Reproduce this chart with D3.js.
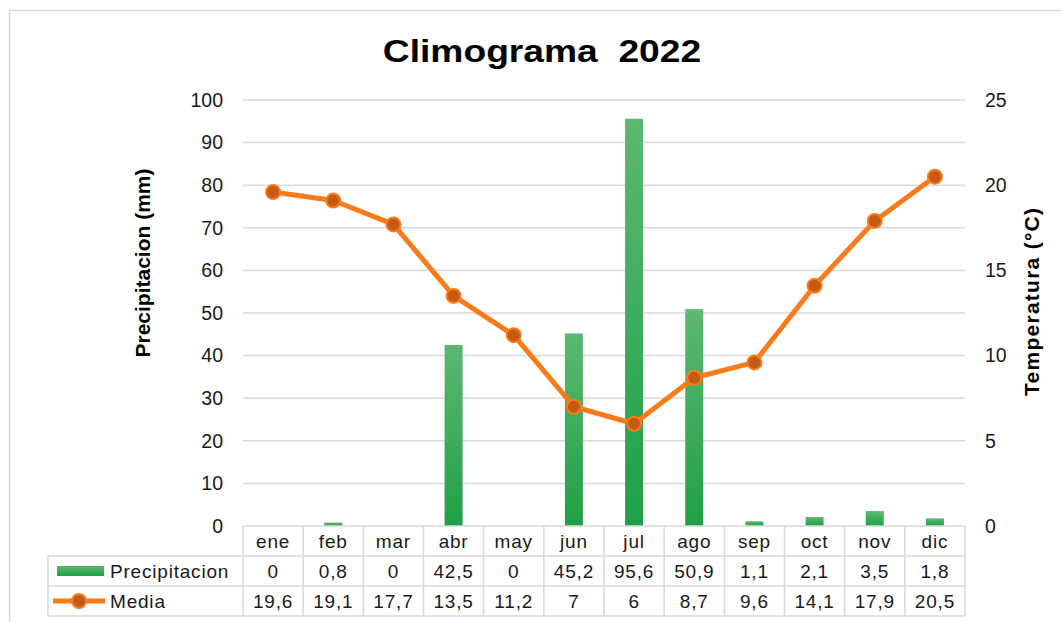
<!DOCTYPE html>
<html>
<head>
<meta charset="utf-8">
<script src="https://cdn.jsdelivr.net/npm/d3@7"></script>
<style>
  body { margin: 0; background: #fff; }
  svg { display: block; font-family: "Liberation Sans", Arial, sans-serif; }
</style>
</head>
<body>
<div id="chart"></div>
<script>
// data
const months = ['ene', 'feb', 'mar', 'abr', 'may', 'jun', 'jul', 'ago', 'sep', 'oct', 'nov', 'dic'];
const precipitacion = [0, 0.8, 0, 42.5, 0, 45.2, 95.6, 50.9, 1.1, 2.1, 3.5, 1.8];
const media = [19.6, 19.1, 17.7, 13.5, 11.2, 7, 6, 8.7, 9.6, 14.1, 17.9, 20.5];
const leftTicks = [0, 10, 20, 30, 40, 50, 60, 70, 80, 90, 100];
const rightTicks = [0, 5, 10, 15, 20, 25];

const width = 1062, height = 622;
const plot = { left: 243, right: 965, top: 100, bottom: 526 };
const rowH = 30;
const orange = '#fb7a1a', darkOrange = '#c55a11';

const svg = d3.select('#chart').append('svg')
  .attr('width', width)
  .attr('height', height);

// outer frame
svg.append('rect')
  .attr('x', 9.5).attr('y', 10.5)
  .attr('width', 1100).attr('height', 700)
  .attr('fill', 'none')
  .attr('stroke', '#d9d9d9')
  .attr('stroke-width', 1.5);

const x = d3.scaleBand().domain(months).range([plot.left, plot.right]);
const yL = d3.scaleLinear().domain([0, 100]).range([plot.bottom, plot.top]);
const yR = d3.scaleLinear().domain([0, 25]).range([plot.bottom, plot.top]);
const cx = i => x(months[i]) + x.bandwidth() / 2;

// gradient for bars
const grad = svg.append('defs').append('linearGradient')
  .attr('id', 'barGrad')
  .attr('x1', 0).attr('y1', 0).attr('x2', 0).attr('y2', 1);
grad.append('stop').attr('offset', '0%').attr('stop-color', '#5cb872');
grad.append('stop').attr('offset', '100%').attr('stop-color', '#20a046');

// title (slightly stretched like the original)
svg.append('text')
  .attr('transform', 'translate(542,62) scale(1.2,1)')
  .attr('text-anchor', 'middle')
  .attr('font-size', 31)
  .attr('font-weight', 'bold')
  .attr('fill', '#000')
  .style('white-space', 'pre')
  .text('Climograma  2022');

// gridlines
svg.append('g')
  .selectAll('line')
  .data(leftTicks.filter(d => d > 0))
  .enter()
  .append('line')
  .attr('x1', plot.left).attr('x2', plot.right)
  .attr('y1', d => yL(d)).attr('y2', d => yL(d))
  .attr('stroke', '#d9d9d9')
  .attr('stroke-width', 1.5);

// left axis
const axL = svg.append('g')
  .attr('transform', `translate(${plot.left - 20},0)`)
  .call(d3.axisLeft(yL).tickValues(leftTicks).tickSize(0).tickPadding(0));
axL.select('.domain').remove();
axL.selectAll('text')
  .attr('font-size', 19.5)
  .attr('fill', '#1a1a1a')
  .attr('font-family', '"Liberation Sans", Arial, sans-serif');

// right axis
const axR = svg.append('g')
  .attr('transform', `translate(${plot.right + 20},0)`)
  .call(d3.axisRight(yR).tickValues(rightTicks).tickSize(0).tickPadding(0));
axR.select('.domain').remove();
axR.selectAll('text')
  .attr('font-size', 19.5)
  .attr('fill', '#1a1a1a')
  .attr('font-family', '"Liberation Sans", Arial, sans-serif');

// axis titles
svg.append('text')
  .attr('transform', 'translate(150,263) rotate(-90)')
  .attr('text-anchor', 'middle')
  .attr('font-size', 21)
  .attr('font-weight', 'bold')
  .text('Precipitacion (mm)');

svg.append('text')
  .attr('transform', 'translate(1039,302) rotate(-90)')
  .attr('text-anchor', 'middle')
  .attr('font-size', 21)
  .attr('font-weight', 'bold')
  .attr('textLength', 188)
  .text('Temperatura (°C)');

// bars
const barW = 18;
svg.append('g')
  .selectAll('rect')
  .data(precipitacion)
  .enter()
  .append('rect')
  .attr('x', (d, i) => cx(i) - barW / 2)
  .attr('y', d => yL(d))
  .attr('width', barW)
  .attr('height', d => yL(0) - yL(d))
  .attr('fill', 'url(#barGrad)');

// temperature line
const line = d3.line()
  .x((d, i) => cx(i))
  .y(d => yR(d));

svg.append('path')
  .datum(media)
  .attr('d', line)
  .attr('fill', 'none')
  .attr('stroke', orange)
  .attr('stroke-width', 5)
  .attr('stroke-linejoin', 'round');

svg.append('g')
  .selectAll('circle')
  .data(media)
  .enter()
  .append('circle')
  .attr('cx', (d, i) => cx(i))
  .attr('cy', d => yR(d))
  .attr('r', 7)
  .attr('fill', darkOrange)
  .attr('stroke', orange)
  .attr('stroke-width', 2);

// data table
const table = svg.append('g');
const tTop = plot.bottom;
const tLeft = 48;
const lineStyle = s => s.attr('stroke', '#d9d9d9').attr('stroke-width', 1.5);

table.append('line').attr('x1', plot.left).attr('x2', plot.right).attr('y1', tTop).attr('y2', tTop).call(lineStyle);
[1, 2, 3].forEach(r => {
  table.append('line')
    .attr('x1', tLeft).attr('x2', plot.right)
    .attr('y1', tTop + r * rowH).attr('y2', tTop + r * rowH)
    .call(lineStyle);
});
table.append('line').attr('x1', tLeft).attr('x2', tLeft).attr('y1', tTop + rowH).attr('y2', tTop + 3 * rowH).call(lineStyle);
months.forEach(m => {
  table.append('line')
    .attr('x1', x(m)).attr('x2', x(m))
    .attr('y1', tTop).attr('y2', tTop + 3 * rowH)
    .call(lineStyle);
});
table.append('line').attr('x1', plot.right).attr('x2', plot.right).attr('y1', tTop).attr('y2', tTop + 3 * rowH).call(lineStyle);

const fmt = v => String(v).replace('.', ',');
const cellText = (vals, row) => {
  table.append('g')
    .selectAll('text')
    .data(vals)
    .enter()
    .append('text')
    .attr('x', (d, i) => cx(i))
    .attr('y', tTop + row * rowH + rowH / 2 + 7)
    .attr('text-anchor', 'middle')
    .attr('font-size', 19)
    .attr('letter-spacing', 0.8)
    .attr('fill', '#1a1a1a')
    .text(d => d);
};
cellText(months, 0);
cellText(precipitacion.map(fmt), 1);
cellText(media.map(fmt), 2);

// legend keys inside the table
table.append('rect')
  .attr('x', 57).attr('y', tTop + rowH + rowH / 2 - 5)
  .attr('width', 47).attr('height', 10)
  .attr('fill', 'url(#barGrad)');
table.append('text')
  .attr('x', 110).attr('y', tTop + rowH + rowH / 2 + 7)
  .attr('font-size', 19).attr('letter-spacing', 0.8).attr('fill', '#1a1a1a')
  .text('Precipitacion');

table.append('line')
  .attr('x1', 53).attr('x2', 105)
  .attr('y1', tTop + 2 * rowH + rowH / 2).attr('y2', tTop + 2 * rowH + rowH / 2)
  .attr('stroke', orange).attr('stroke-width', 5);
table.append('circle')
  .attr('cx', 79).attr('cy', tTop + 2 * rowH + rowH / 2)
  .attr('r', 7)
  .attr('fill', darkOrange)
  .attr('stroke', orange)
  .attr('stroke-width', 2);
table.append('text')
  .attr('x', 110).attr('y', tTop + 2 * rowH + rowH / 2 + 7)
  .attr('font-size', 19).attr('letter-spacing', 0.8).attr('fill', '#1a1a1a')
  .text('Media');
</script>
</body>
</html>
